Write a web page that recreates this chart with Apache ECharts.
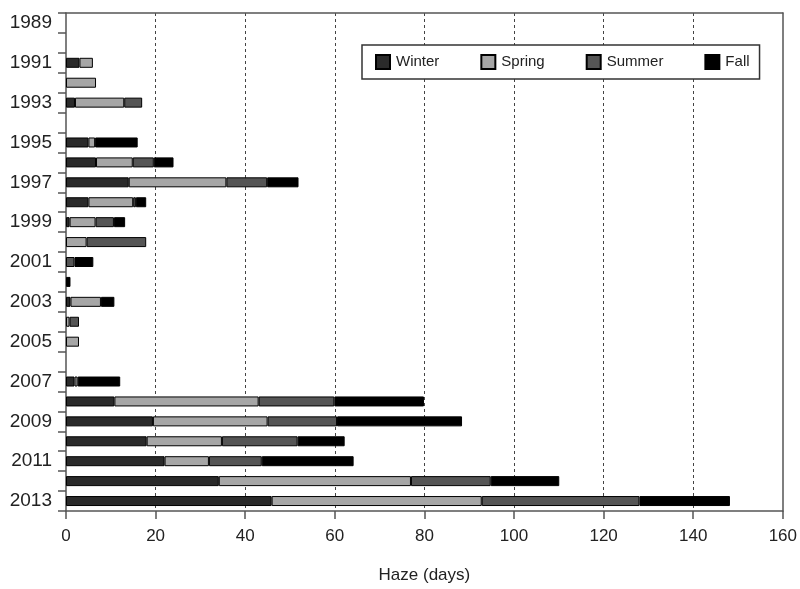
<!DOCTYPE html>
<html>
<head>
<meta charset="utf-8">
<script src="https://cdn.jsdelivr.net/npm/echarts@6/dist/echarts.min.js"></script>
<style>
html,body{margin:0;padding:0;background:#fff;}
#chart{width:800px;height:589px;}
</style>
</head>
<body>
<div id="chart"></div>
<script>
const years = ['1989','1990','1991','1992','1993','1994','1995','1996','1997','1998','1999','2000','2001','2002','2003','2004','2005','2006','2007','2008','2009','2010','2011','2012','2013'];
const winter = [null,null,3,null,2,null,5,6.7,14,5,0.8,null,null,null,1,null,null,null,1.9,10.8,19.4,18,22,34.1,45.9];
const spring = [null,null,3,6.7,11,null,1.5,8.2,21.8,10,5.8,4.6,null,null,6.8,0.8,2.9,null,0.7,32.2,25.6,16.8,9.9,42.9,46.9];
const summer = [null,null,null,null,4,null,null,4.7,9.1,0.6,4.1,13.3,1.9,null,null,2.1,null,null,null,16.9,15.5,16.9,11.8,17.8,35.2];
const fall = [null,null,null,null,null,null,9.5,4.4,7,2.3,2.5,null,4.2,1,3,null,null,null,9.5,20,27.9,10.5,20.5,15.3,20.2];
const seriesNames = ['Winter','Spring','Summer','Fall'];
const seriesColors = ['#2a2a2a','#a6a6a6','#555555','#000000'];
const seriesData = [winter, spring, summer, fall];

const chart = echarts.init(document.getElementById('chart'), null, {renderer:'canvas'});
const font = 'Liberation Sans, Arial, sans-serif';
const lineCol = '#555';
const gridCols = ['rgba(0,0,0,0)','#444','#444','#444','#444','#444','#444','#444','rgba(0,0,0,0)'];
chart.setOption({
  animation: false,
  backgroundColor: '#ffffff',
  grid: {left: 66, right: 17, top: 13, bottom: 72, show: false, containLabel: false},
  legend: {
    data: seriesNames,
    left: 362, top: 45,
    padding: [9, 10, 9, 13],
    itemGap: 41,
    itemWidth: 14, itemHeight: 14,
    icon: 'rect',
    borderColor: '#333', borderWidth: 1.5,
    backgroundColor: '#fff',
    textStyle: {fontFamily: font, fontSize: 15, color: '#222', padding: [0,0,0,1]}
  },
  xAxis: [{
    type: 'value', min: 0, max: 160, interval: 20,
    name: 'Haze (days)', nameLocation: 'middle', nameGap: 56,
    nameTextStyle: {fontFamily: font, fontSize: 17, color: '#222'},
    axisLine: {show: true, lineStyle: {color: lineCol, width: 1.5}},
    axisTick: {show: true, length: 8, lineStyle: {color: lineCol, width: 1.5}},
    axisLabel: {fontFamily: font, fontSize: 17, color: '#222', margin: 17},
    splitLine: {show: true, lineStyle: {color: gridCols, type: [3, 3], width: 1}}
  }, {
    type: 'value', min: 0, max: 160, interval: 20, position: 'top',
    axisLine: {show: true, onZero: false, lineStyle: {color: lineCol, width: 1.5}},
    axisTick: {show: false}, axisLabel: {show: false}, splitLine: {show: false}
  }],
  yAxis: [{
    type: 'category', data: years, inverse: true,
    axisLine: {show: true, lineStyle: {color: lineCol, width: 1.5}},
    axisTick: {show: true, interval: 0, length: 8, lineStyle: {color: lineCol, width: 1.5}},
    axisLabel: {interval: 1, fontFamily: font, fontSize: 19, color: '#222', margin: 14},
    splitLine: {show: false}
  }, {
    type: 'category', data: years, inverse: true, position: 'right',
    axisLine: {show: true, onZero: false, lineStyle: {color: lineCol, width: 1.5}},
    axisTick: {show: false}, axisLabel: {show: false}, splitLine: {show: false}
  }],
  series: seriesNames.map((n, i) => ({
    name: n, type: 'bar', stack: 'haze', barWidth: 10,
    xAxisIndex: 0, yAxisIndex: 0,
    data: seriesData[i],
    itemStyle: {color: seriesColors[i], borderColor: '#000', borderWidth: 1}
  }))
});
</script>
</body>
</html>
